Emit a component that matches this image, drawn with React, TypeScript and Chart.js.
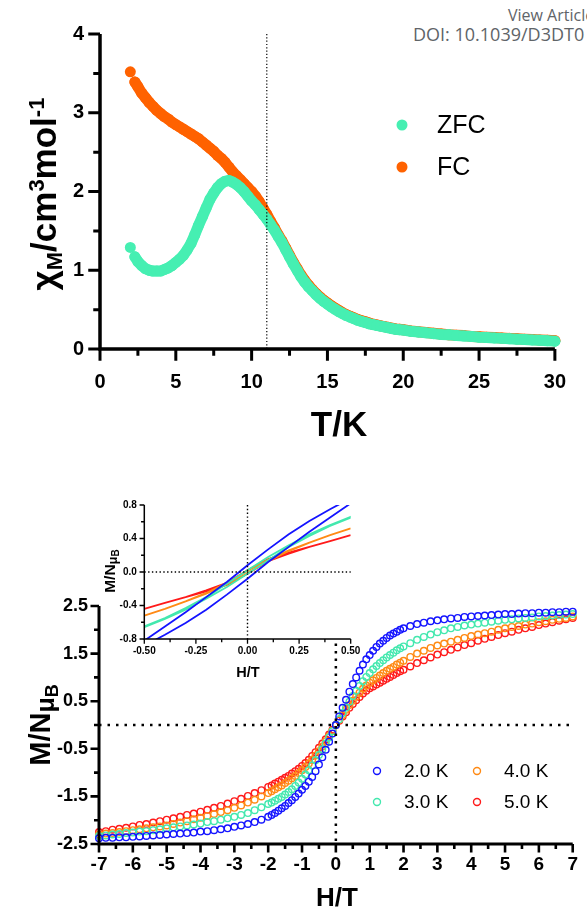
import React, { useEffect, useRef } from "react";
import { Chart, registerables } from "chart.js";
Chart.register(...registerables);

const FONT = "'Liberation Sans', Arial, Helvetica, sans-serif";
const W = 587;
const H = 908;

// ---------------- Panel (a): chi_M vs T ----------------
const temperature = [
  2.0, 2.3, 2.5, 2.75, 3.0, 3.25, 3.5, 3.75, 4.0, 4.25, 4.5, 4.75, 5.0, 5.25, 5.5, 5.75,
  6.0, 6.25, 6.5, 6.75, 7.0, 7.25, 7.5, 7.75, 8.0, 8.25, 8.5, 8.75, 9.0, 9.25, 9.5, 9.75,
  10.0, 10.25, 10.5, 10.75, 11.0, 11.25, 11.5, 11.75, 12.0, 12.25, 12.5, 12.75, 13.0, 13.25, 13.5, 13.75,
  14.0, 14.25, 14.5, 14.75, 15.0, 15.25, 15.5, 15.75, 16.0, 16.25, 16.5, 16.75, 17.0, 17.25, 17.5, 17.75,
  18.0, 18.25, 18.5, 18.75, 19.0, 19.25, 19.5, 19.75, 20.0, 20.5, 21.0, 21.5, 22.0, 22.5, 23.0, 23.5,
  24.0, 24.5, 25.0, 25.5, 26.0, 26.5, 27.0, 27.5, 28.0, 28.5, 29.0, 29.5, 30.0,
];
const chiZFC = [
  1.29, 1.17, 1.11, 1.06, 1.02, 1.0, 0.99, 0.99, 0.99, 1.01, 1.03, 1.06, 1.1, 1.14, 1.19, 1.26,
  1.34, 1.45, 1.57, 1.68, 1.79, 1.9, 1.98, 2.05, 2.1, 2.13, 2.14, 2.12, 2.09, 2.05, 2.0, 1.94,
  1.88, 1.83, 1.77, 1.71, 1.65, 1.58, 1.51, 1.43, 1.35, 1.26, 1.17, 1.08, 1.0, 0.92, 0.85, 0.79,
  0.74, 0.69, 0.645, 0.605, 0.57, 0.535, 0.505, 0.475, 0.45, 0.425, 0.405, 0.385, 0.365, 0.35, 0.335, 0.32,
  0.31, 0.3, 0.29, 0.28, 0.27, 0.26, 0.25, 0.245, 0.24, 0.225, 0.215, 0.205, 0.195, 0.185, 0.18, 0.17,
  0.165, 0.16, 0.15, 0.145, 0.14, 0.135, 0.13, 0.125, 0.12, 0.115, 0.11, 0.105, 0.1,
];
const chiFC = [
  3.52, 3.39, 3.33, 3.25, 3.19, 3.13, 3.08, 3.03, 2.99, 2.95, 2.92, 2.88, 2.85, 2.82, 2.79, 2.76,
  2.73, 2.7, 2.67, 2.63, 2.59, 2.55, 2.51, 2.46, 2.42, 2.37, 2.31, 2.25, 2.2, 2.15, 2.1, 2.05,
  2.0, 1.94, 1.87, 1.79, 1.71, 1.62, 1.54, 1.45, 1.37, 1.28, 1.19, 1.1, 1.02, 0.94, 0.87, 0.81,
  0.755, 0.705, 0.66, 0.62, 0.585, 0.55, 0.52, 0.49, 0.46, 0.435, 0.415, 0.395, 0.375, 0.36, 0.345, 0.33,
  0.315, 0.305, 0.295, 0.285, 0.275, 0.265, 0.255, 0.25, 0.245, 0.23, 0.22, 0.21, 0.2, 0.19, 0.18, 0.175,
  0.17, 0.16, 0.155, 0.15, 0.145, 0.14, 0.135, 0.13, 0.125, 0.12, 0.115, 0.11, 0.105,
];
const chiLabels = ["ZFC", "FC"];
const chiColors = ["#46EFB2", "#FF6200"];
const transitionT = 11;

// ---------------- Panel (b): M vs H ----------------
const field = [
  -7.0, -6.8, -6.6, -6.4, -6.2, -6.0, -5.8, -5.6, -5.4, -5.2, -5.0, -4.8, -4.6, -4.4, -4.2, -4.0,
  -3.8, -3.6, -3.4, -3.2, -3.0, -2.8, -2.6, -2.4, -2.2,
  -2.0, -1.9, -1.8, -1.7, -1.6, -1.5, -1.4, -1.3, -1.2, -1.1, -1.0, -0.9, -0.8, -0.7, -0.6, -0.5,
  -0.4, -0.3, -0.2, -0.1, 0.0, 0.1, 0.2, 0.3, 0.4, 0.5, 0.6, 0.7, 0.8, 0.9, 1.0,
  1.1, 1.2, 1.3, 1.4, 1.5, 1.6, 1.7, 1.8, 1.9, 2.0,
  2.2, 2.4, 2.6, 2.8, 3.0, 3.2, 3.4, 3.6, 3.8, 4.0, 4.2, 4.4, 4.6, 4.8, 5.0, 5.2,
  5.4, 5.6, 5.8, 6.0, 6.2, 6.4, 6.6, 6.8, 7.0,
];
const m2K = [
  -2.38, -2.37, -2.37, -2.36, -2.36, -2.35, -2.34, -2.33, -2.32, -2.31, -2.3, -2.29, -2.28, -2.27, -2.26, -2.24,
  -2.23, -2.21, -2.19, -2.17, -2.14, -2.11, -2.08, -2.04, -1.99,
  -1.93, -1.89, -1.85, -1.8, -1.75, -1.7, -1.64, -1.58, -1.51, -1.44, -1.36, -1.28, -1.19, -1.09, -0.97, -0.83,
  -0.68, -0.52, -0.35, -0.18, 0.0, 0.18, 0.36, 0.53, 0.7, 0.86, 1.0, 1.14, 1.27, 1.38, 1.47,
  1.56, 1.64, 1.71, 1.77, 1.83, 1.88, 1.92, 1.96, 2.0, 2.03,
  2.08, 2.12, 2.15, 2.18, 2.2, 2.22, 2.24, 2.25, 2.27, 2.28, 2.29, 2.3, 2.31, 2.32, 2.33, 2.33,
  2.34, 2.35, 2.35, 2.36, 2.36, 2.37, 2.37, 2.38, 2.38,
];
const m3K = [
  -2.33, -2.32, -2.3, -2.29, -2.27, -2.26, -2.24, -2.23, -2.21, -2.19, -2.17, -2.15, -2.13, -2.11, -2.09, -2.07,
  -2.04, -2.02, -1.99, -1.96, -1.93, -1.89, -1.85, -1.79, -1.73,
  -1.66, -1.63, -1.59, -1.55, -1.51, -1.46, -1.41, -1.35, -1.28, -1.21, -1.13, -1.04, -0.95, -0.85, -0.74, -0.63,
  -0.51, -0.39, -0.26, -0.13, 0.0, 0.12, 0.25, 0.37, 0.49, 0.61, 0.72, 0.82, 0.92, 1.01, 1.09,
  1.17, 1.24, 1.3, 1.36, 1.42, 1.47, 1.52, 1.57, 1.61, 1.65,
  1.72, 1.79, 1.85, 1.9, 1.95, 1.99, 2.03, 2.06, 2.09, 2.11, 2.13, 2.15, 2.17, 2.19, 2.21, 2.22,
  2.24, 2.25, 2.26, 2.28, 2.29, 2.3, 2.31, 2.32, 2.33,
];
const m4K = [
  -2.3, -2.28, -2.27, -2.25, -2.23, -2.21, -2.19, -2.17, -2.15, -2.13, -2.11, -2.08, -2.05, -2.02, -1.98, -1.95,
  -1.91, -1.87, -1.83, -1.79, -1.74, -1.69, -1.63, -1.57, -1.5,
  -1.43, -1.39, -1.35, -1.31, -1.27, -1.22, -1.17, -1.12, -1.07, -1.01, -0.95, -0.88, -0.81, -0.73, -0.64, -0.55,
  -0.45, -0.34, -0.23, -0.12, 0.0, 0.11, 0.21, 0.32, 0.42, 0.51, 0.6, 0.68, 0.76, 0.83, 0.89,
  0.94, 0.99, 1.04, 1.09, 1.14, 1.18, 1.22, 1.27, 1.31, 1.35,
  1.43, 1.5, 1.56, 1.62, 1.67, 1.71, 1.75, 1.79, 1.83, 1.87, 1.9, 1.93, 1.96, 2.0, 2.03, 2.06,
  2.08, 2.11, 2.13, 2.16, 2.18, 2.21, 2.23, 2.25, 2.28,
];
const m5K = [
  -2.25, -2.23, -2.2, -2.18, -2.16, -2.13, -2.1, -2.08, -2.05, -2.02, -1.99, -1.96, -1.93, -1.89, -1.86, -1.82,
  -1.78, -1.74, -1.7, -1.65, -1.6, -1.55, -1.49, -1.43, -1.37,
  -1.3, -1.27, -1.23, -1.19, -1.15, -1.11, -1.07, -1.02, -0.97, -0.92, -0.86, -0.8, -0.73, -0.65, -0.57, -0.48,
  -0.39, -0.3, -0.2, -0.1, 0.0, 0.09, 0.18, 0.27, 0.36, 0.44, 0.52, 0.59, 0.66, 0.72, 0.77,
  0.81, 0.85, 0.89, 0.93, 0.97, 1.01, 1.05, 1.09, 1.13, 1.16,
  1.23, 1.3, 1.36, 1.42, 1.48, 1.53, 1.58, 1.63, 1.68, 1.72, 1.77, 1.81, 1.85, 1.89, 1.93, 1.96,
  2.0, 2.03, 2.06, 2.1, 2.13, 2.16, 2.19, 2.22, 2.25,
];
const mLabels = ["2.0 K", "3.0 K", "4.0 K", "5.0 K"];
const mColors = ["#1414FF", "#43E8AE", "#FF8A14", "#FF1A1A"];

// ---------------- Inset: low-field loops ----------------
const insetField = [-0.5, -0.4, -0.3, -0.2, -0.1, 0.0, 0.1, 0.2, 0.3, 0.4, 0.5];
const loop2KUp = [-0.88, -0.75, -0.61, -0.45, -0.27, -0.08, 0.12, 0.3, 0.48, 0.65, 0.82];
const loop2KDown = [-0.82, -0.65, -0.48, -0.3, -0.12, 0.08, 0.27, 0.45, 0.61, 0.75, 0.88];
const loop3KUp = [-0.66, -0.56, -0.45, -0.32, -0.18, -0.02, 0.14, 0.3, 0.43, 0.55, 0.65];
const loop3KDown = [-0.65, -0.55, -0.43, -0.3, -0.14, 0.02, 0.18, 0.32, 0.45, 0.56, 0.66];
const loop4KUp = [-0.52, -0.44, -0.35, -0.26, -0.15, -0.015, 0.13, 0.25, 0.35, 0.44, 0.52];
const loop4KDown = [-0.52, -0.44, -0.35, -0.25, -0.13, 0.015, 0.15, 0.26, 0.35, 0.44, 0.52];
const loop5KUp = [-0.44, -0.37, -0.3, -0.23, -0.155, -0.02, 0.13, 0.22, 0.3, 0.37, 0.44];
const loop5KDown = [-0.44, -0.37, -0.3, -0.22, -0.13, 0.02, 0.155, 0.23, 0.3, 0.37, 0.44];

// ---------------- helpers ----------------
const isMult = (v: number, m: number) => Math.abs(v / m - Math.round(v / m)) < 1e-6;

type Part = { t: string; s: number; dy?: number };
type Title = { parts: Part[]; x: number; y: number; rotated: boolean; weight?: string };

function drawRich(ctx: CanvasRenderingContext2D, title: Title) {
  const weight = title.weight ?? "bold";
  ctx.save();
  ctx.translate(title.x, title.y);
  if (title.rotated) ctx.rotate(-Math.PI / 2);
  let w = 0;
  for (const p of title.parts) {
    ctx.font = `${weight} ${p.s}px ${FONT}`;
    w += ctx.measureText(p.t).width;
  }
  let cx = -w / 2;
  ctx.fillStyle = "#000";
  ctx.textAlign = "left";
  ctx.textBaseline = "alphabetic";
  for (const p of title.parts) {
    ctx.font = `${weight} ${p.s}px ${FONT}`;
    ctx.fillText(p.t, cx, p.dy ?? 0);
    cx += ctx.measureText(p.t).width;
  }
  ctx.restore();
}

type Deco = {
  axisWidth: number;
  tickWidth: number;
  majorLen: number;
  minorLen: number;
  majorX: (v: number) => boolean;
  majorY: (v: number) => boolean;
  dotted: { axis: "x" | "y"; value: number; width: number; dash: number[] }[];
  fillArea?: boolean;
  titles: Title[];
  legend?: {
    pos: { x: number; y: number }[];
    textDx: number;
    size: number;
    radius: number;
    filled: boolean;
  };
};

function decoPlugin(d: Deco) {
  return {
    id: "deco",
    beforeDatasetsDraw(chart: any) {
      if (!d.fillArea) return;
      const a = chart.chartArea;
      const ctx = chart.ctx;
      ctx.save();
      ctx.fillStyle = "#fff";
      ctx.fillRect(a.left, a.top, a.right - a.left, a.bottom - a.top);
      ctx.restore();
    },
    afterDatasetsDraw(chart: any) {
      const ctx: CanvasRenderingContext2D = chart.ctx;
      const a = chart.chartArea;
      const xs = chart.scales.x;
      const ys = chart.scales.y;
      ctx.save();
      for (const dl of d.dotted) {
        ctx.beginPath();
        ctx.setLineDash(dl.dash);
        ctx.lineWidth = dl.width;
        ctx.strokeStyle = "#000";
        if (dl.axis === "x") {
          const p = xs.getPixelForValue(dl.value);
          ctx.moveTo(p, a.top);
          ctx.lineTo(p, a.bottom);
        } else {
          const p = ys.getPixelForValue(dl.value);
          ctx.moveTo(a.left, p);
          ctx.lineTo(a.right, p);
        }
        ctx.stroke();
      }
      ctx.setLineDash([]);
      const hw = d.axisWidth / 2;
      ctx.strokeStyle = "#000";
      ctx.lineWidth = d.axisWidth;
      ctx.beginPath();
      ctx.moveTo(a.left, a.top);
      ctx.lineTo(a.left, a.bottom + hw);
      ctx.moveTo(a.left - hw, a.bottom);
      ctx.lineTo(a.right, a.bottom);
      ctx.stroke();
      ctx.lineWidth = d.tickWidth;
      ctx.beginPath();
      for (const t of ys.ticks) {
        const p = ys.getPixelForValue(t.value);
        const len = d.majorY(t.value) ? d.majorLen : d.minorLen;
        ctx.moveTo(a.left, p);
        ctx.lineTo(a.left - hw - len, p);
      }
      for (const t of xs.ticks) {
        const p = xs.getPixelForValue(t.value);
        const len = d.majorX(t.value) ? d.majorLen : d.minorLen;
        ctx.moveTo(p, a.bottom);
        ctx.lineTo(p, a.bottom + hw + len);
      }
      ctx.stroke();
      for (const t of d.titles) drawRich(ctx, t);
      if (d.legend) {
        const lg = d.legend;
        chart.data.datasets.forEach((ds: any, i: number) => {
          const pos = lg.pos[i];
          if (!pos) return;
          ctx.beginPath();
          ctx.arc(pos.x, pos.y, lg.radius, 0, Math.PI * 2);
          if (lg.filled) {
            ctx.fillStyle = ds.backgroundColor;
            ctx.fill();
          } else {
            ctx.lineWidth = 1.4;
            ctx.strokeStyle = ds.borderColor;
            ctx.stroke();
          }
          ctx.fillStyle = "#000";
          ctx.font = `${lg.size}px ${FONT}`;
          ctx.textAlign = "left";
          ctx.textBaseline = "middle";
          ctx.fillText(ds.label, pos.x + lg.textDx, pos.y + 1);
        });
      }
      ctx.restore();
    },
  };
}

function fixedScale(width?: number, height?: number) {
  return (s: any) => {
    if (width !== undefined) s.width = width;
    if (height !== undefined) s.height = height;
  };
}

// ---------------- chart configs ----------------
function chiConfig(): any {
  const ds = [chiZFC, chiFC].map((vals, i) => ({
    label: chiLabels[i],
    data: temperature.map((t, j) => ({ x: t, y: vals[j] })),
    backgroundColor: chiColors[i],
    borderColor: chiColors[i],
    showLine: true,
    borderWidth: 11,
    borderCapStyle: "round",
    borderJoinStyle: "round",
    segment: {
      borderColor: (c: any) => (c.p0DataIndex === 0 ? "rgba(0,0,0,0)" : undefined),
    },
    pointRadius: 5.5,
    pointBorderWidth: 0,
    clip: false,
  }));
  return {
    type: "scatter",
    data: { datasets: ds },
    options: {
      responsive: false,
      animation: false,
      devicePixelRatio: 1,
      events: [],
      layout: { padding: { top: 34, left: 0, right: 14, bottom: H - 440 } },
      plugins: { legend: { display: false }, tooltip: { enabled: false } },
      scales: {
        x: {
          type: "linear",
          min: 0,
          max: 30,
          afterFit: fixedScale(undefined, 91),
          grid: { display: false, drawTicks: false },
          border: { display: false },
          ticks: {
            stepSize: 2.5,
            autoSkip: false,
            maxRotation: 0,
            padding: 21,
            color: "#000",
            font: { family: FONT, size: 20, weight: "bold" },
            callback: (v: number) => (isMult(v, 5) ? String(v) : ""),
          },
        },
        y: {
          type: "linear",
          min: 0,
          max: 4,
          afterFit: fixedScale(100, undefined),
          grid: { display: false, drawTicks: false },
          border: { display: false },
          ticks: {
            stepSize: 0.5,
            autoSkip: false,
            padding: 16,
            color: "#000",
            font: { family: FONT, size: 20, weight: "bold" },
            callback: (v: number) => (isMult(v, 1) ? String(v) : ""),
          },
        },
      },
    },
    plugins: [
      decoPlugin({
        axisWidth: 3.5,
        tickWidth: 3,
        majorLen: 10,
        minorLen: 5,
        majorX: (v) => isMult(v, 5),
        majorY: (v) => isMult(v, 1),
        dotted: [{ axis: "x", value: transitionT, width: 1.2, dash: [1.2, 2.1] }],
        titles: [
          {
            parts: [
              { t: "χ", s: 35 },
              { t: "M", s: 22, dy: 6 },
              { t: "/cm", s: 35 },
              { t: "3", s: 22, dy: -12 },
              { t: "mol", s: 35 },
              { t: "-1", s: 22, dy: -12 },
            ],
            x: 56,
            y: 194,
            rotated: true,
          },
          { parts: [{ t: "T/K", s: 35 }], x: 339, y: 436, rotated: false },
        ],
        legend: {
          pos: [
            { x: 402, y: 125 },
            { x: 402, y: 167 },
          ],
          textDx: 35,
          size: 25,
          radius: 5.5,
          filled: true,
        },
      }),
    ],
  };
}

function magConfig(): any {
  const series = [m2K, m3K, m4K, m5K];
  const ds = series.map((vals, i) => ({
    label: mLabels[i],
    data: field.map((h, j) => ({ x: h, y: vals[j] })),
    borderColor: mColors[i],
    backgroundColor: "rgba(0,0,0,0)",
    pointRadius: 3.3,
    pointBorderWidth: 1.4,
    clip: false,
  }));
  return {
    type: "scatter",
    data: { datasets: ds },
    options: {
      responsive: false,
      animation: false,
      devicePixelRatio: 1,
      events: [],
      layout: { padding: { top: 606, left: 0, right: 14, bottom: 0 } },
      plugins: { legend: { display: false }, tooltip: { enabled: false } },
      scales: {
        x: {
          type: "linear",
          min: -7,
          max: 7,
          afterFit: fixedScale(undefined, 64),
          grid: { display: false, drawTicks: false },
          border: { display: false },
          ticks: {
            stepSize: 0.5,
            autoSkip: false,
            maxTicksLimit: 100,
            maxRotation: 0,
            padding: 9,
            color: "#000",
            font: { family: FONT, size: 19, weight: "bold" },
            callback: (v: number) => (isMult(v, 1) ? String(v) : ""),
          },
        },
        y: {
          type: "linear",
          min: -2.5,
          max: 2.5,
          afterFit: fixedScale(99, undefined),
          grid: { display: false, drawTicks: false },
          border: { display: false },
          ticks: {
            stepSize: 0.5,
            autoSkip: false,
            padding: 11,
            color: "#000",
            font: { family: FONT, size: 18, weight: "bold" },
            callback: (v: number) => (isMult(v + 0.5, 1) ? v.toFixed(1) : ""),
          },
        },
      },
    },
    plugins: [
      decoPlugin({
        axisWidth: 3,
        tickWidth: 2.6,
        majorLen: 7,
        minorLen: 3.5,
        majorX: (v) => isMult(v, 1),
        majorY: (v) => isMult(v + 0.5, 1),
        dotted: [
          { axis: "y", value: 0, width: 2.5, dash: [2.5, 6] },
          { axis: "x", value: 0, width: 2.5, dash: [2.5, 5] },
        ],
        titles: [
          {
            parts: [
              { t: "M/N", s: 29 },
              { t: "μ", s: 25, dy: 4 },
              { t: "B", s: 18, dy: 8 },
            ],
            x: 50,
            y: 725,
            rotated: true,
          },
          { parts: [{ t: "H/T", s: 26 }], x: 337, y: 906, rotated: false },
        ],
        legend: {
          pos: [
            { x: 377, y: 771 },
            { x: 377, y: 802 },
            { x: 477, y: 771 },
            { x: 477, y: 802 },
          ],
          textDx: 27,
          size: 19,
          radius: 3.5,
          filled: false,
        },
      }),
    ],
  };
}

function insetConfig(): any {
  const loops = [
    [loop2KUp, loop2KDown],
    [loop3KUp, loop3KDown],
    [loop4KUp, loop4KDown],
    [loop5KUp, loop5KDown],
  ];
  const ds = loops.map(([up, down], i) => {
    const asc = insetField.map((h, j) => ({ x: h, y: up[j] }));
    const desc = insetField.map((h, j) => ({ x: h, y: down[j] })).reverse();
    return {
      label: mLabels[i],
      data: asc.concat(desc),
      borderColor: mColors[i],
      backgroundColor: mColors[i],
      showLine: true,
      pointRadius: 0,
      borderWidth: 1.8,
      tension: 0,
    };
  });
  return {
    type: "scatter",
    data: { datasets: ds },
    options: {
      responsive: false,
      animation: false,
      devicePixelRatio: 1,
      events: [],
      layout: { padding: { top: 505, left: 90, right: W - 350.7, bottom: H - 690 } },
      plugins: { legend: { display: false }, tooltip: { enabled: false } },
      scales: {
        x: {
          type: "linear",
          min: -0.5,
          max: 0.5,
          afterFit: fixedScale(undefined, 51),
          grid: { display: false, drawTicks: false },
          border: { display: false },
          ticks: {
            stepSize: 0.125,
            autoSkip: false,
            maxRotation: 0,
            padding: 6.5,
            color: "#000",
            font: { family: FONT, size: 10, weight: "bold" },
            callback: (v: number) => (isMult(v, 0.25) ? v.toFixed(2) : ""),
          },
        },
        y: {
          type: "linear",
          min: -0.8,
          max: 0.8,
          afterFit: fixedScale(54.3, undefined),
          grid: { display: false, drawTicks: false },
          border: { display: false },
          ticks: {
            stepSize: 0.2,
            autoSkip: false,
            padding: 7.5,
            color: "#000",
            font: { family: FONT, size: 10, weight: "bold" },
            callback: (v: number) => (isMult(v, 0.4) ? v.toFixed(1) : ""),
          },
        },
      },
    },
    plugins: [
      decoPlugin({
        axisWidth: 1.5,
        tickWidth: 1.3,
        majorLen: 4,
        minorLen: 2.5,
        majorX: (v) => isMult(v, 0.25),
        majorY: (v) => isMult(v, 0.4),
        fillArea: true,
        dotted: [
          { axis: "y", value: 0, width: 1.4, dash: [1.4, 2.4] },
          { axis: "x", value: 0, width: 1.4, dash: [1.4, 2.4] },
        ],
        titles: [
          {
            parts: [
              { t: "M/N", s: 15.5 },
              { t: "μ", s: 13, dy: 2 },
              { t: "B", s: 10, dy: 4 },
            ],
            x: 115,
            y: 571,
            rotated: true,
          },
          { parts: [{ t: "H/T", s: 14.5 }], x: 248, y: 676.5, rotated: false },
        ],
      }),
    ],
  };
}

export default function App() {
  const chiRef = useRef<HTMLCanvasElement>(null);
  const magRef = useRef<HTMLCanvasElement>(null);
  const insetRef = useRef<HTMLCanvasElement>(null);

  useEffect(() => {
    const charts = [
      new Chart(chiRef.current as HTMLCanvasElement, chiConfig()),
      new Chart(magRef.current as HTMLCanvasElement, magConfig()),
      new Chart(insetRef.current as HTMLCanvasElement, insetConfig()),
    ];
    return () => charts.forEach((c) => c.destroy());
  }, []);

  const canvasStyle: React.CSSProperties = {
    position: "absolute",
    left: 0,
    top: 0,
    width: W,
    height: H,
  };

  return (
    <div
      style={{
        position: "absolute",
        left: 0,
        top: 0,
        width: W,
        height: H,
        overflow: "hidden",
        background: "#fff",
      }}
    >
      <div
        style={{
          position: "absolute",
          left: 508,
          top: 4,
          fontFamily: "'Open Sans', Lato, sans-serif",
          fontSize: 16,
          color: "#606468",
          whiteSpace: "nowrap",
        }}
      >
        View Article
      </div>
      <div
        style={{
          position: "absolute",
          left: 413,
          top: 22,
          fontFamily: "'Open Sans', Lato, sans-serif",
          fontSize: 18,
          color: "#606468",
          whiteSpace: "nowrap",
        }}
      >
        DOI: 10.1039/D3DT0
      </div>
      <canvas ref={chiRef} width={W} height={H} style={canvasStyle} />
      <canvas ref={magRef} width={W} height={H} style={canvasStyle} />
      <canvas ref={insetRef} width={W} height={H} style={canvasStyle} />
    </div>
  );
}
